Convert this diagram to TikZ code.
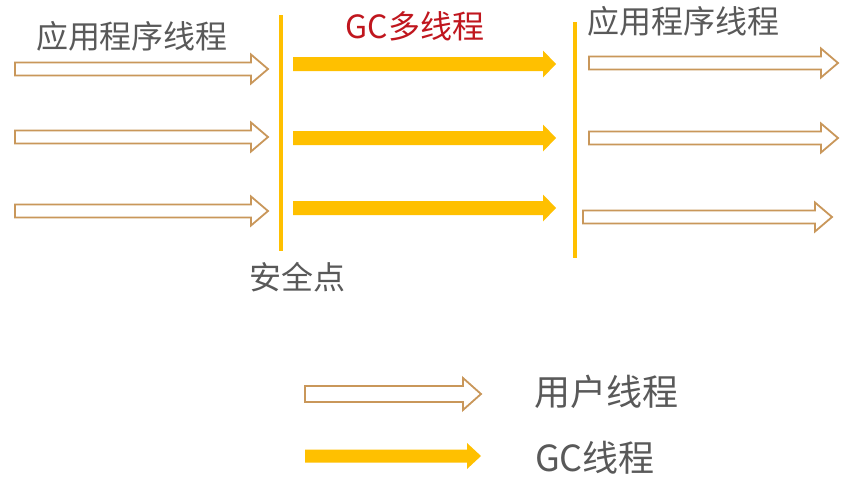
\documentclass[tikz,border=0pt]{standalone}
\usepackage{fontspec}
\setmainfont{Noto Sans CJK SC}
\definecolor{gcgold}{HTML}{FFC000}
\definecolor{ubrown}{HTML}{C9975A}
\definecolor{txtgray}{HTML}{595959}
\definecolor{gcred}{HTML}{C0161E}
% user arrow: #1 start x, #2 end x, #3 y (negative), #4 shaft half, #5 head half, #6 head length
\newcommand\userarrowdraw[6]{%
  \draw[uarrow] (#1,#3+#4) -- (#2-#6,#3+#4) -- (#2-#6,#3+#5) -- (#2,#3)
    -- (#2-#6,#3-#5) -- (#2-#6,#3-#4) -- (#1,#3-#4) -- cycle;}
\newcommand\gcarrowdraw[6]{%
  \fill[garrow] (#1,#3+#4) -- (#2-#6,#3+#4) -- (#2-#6,#3+#5) -- (#2,#3)
    -- (#2-#6,#3-#5) -- (#2-#6,#3-#4) -- (#1,#3-#4) -- cycle;}
\tikzset{
  uarrow/.style={draw=ubrown, line width=1.8pt, fill=white, line join=miter},
  garrow/.style={fill=gcgold},
  barline/.style={draw=gcgold, line width=3.5pt},
  lbl/.style={text=txtgray, font=\fontsize{32}{34}\selectfont, inner sep=0pt, anchor=center},
  leg/.style={lbl, font=\fontsize{36}{38}\selectfont},
}
\begin{document}
\begin{tikzpicture}[x=1pt,y=1pt]
\useasboundingbox[fill=white] (0,0) rectangle (863,-490);
% labels
\node[lbl] (t1) at (132,-36) {应用程序线程};
\node[lbl, text=gcred] (t2) at (415,-26) {GC多线程};
\node[lbl] (t3) at (683,-21) {应用程序线程};
\node[lbl] (t4) at (297,-277) {安全点};
% safe point lines
\coordinate (l1a) at (281,-15); \coordinate (l1b) at (281,-251);
\coordinate (l2a) at (575,-22); \coordinate (l2b) at (575,-258);
\draw[barline] (l1a) -- (l1b);
\draw[barline] (l2a) -- (l2b);
% left user arrows
\userarrowdraw{15}{268}{-69}{6.5}{14.5}{17}
\userarrowdraw{15}{268}{-137}{6.5}{14.5}{17}
\userarrowdraw{15}{268}{-211}{6.5}{14.5}{17}
% gc arrows
\gcarrowdraw{293}{556}{-64}{7}{13.5}{13}
\gcarrowdraw{293}{556}{-138}{7}{13.5}{13}
\gcarrowdraw{293}{556}{-208}{7}{13.5}{13}
% right user arrows
\userarrowdraw{589}{838}{-63}{6.5}{14.5}{17}
\userarrowdraw{589}{838}{-138}{6.5}{14.5}{17}
\userarrowdraw{583}{832}{-217}{6.5}{14.5}{17}
% legend
\userarrowdraw{305}{481}{-394}{8}{16}{18}
\gcarrowdraw{305}{481}{-456}{6.5}{13}{14}
\node[leg] (k1) at (606,-392) {用户线程};
\node[leg] (k2) at (595,-458) {GC线程};
\end{tikzpicture}
\end{document}
